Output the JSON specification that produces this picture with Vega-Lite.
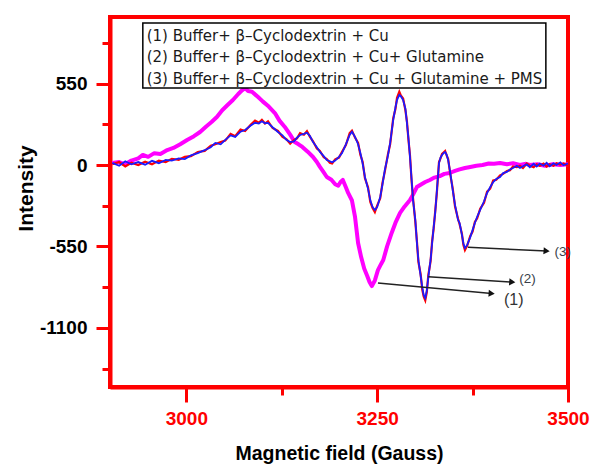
{
  "$schema": "https://vega.github.io/schema/vega-lite/v6.json",
  "width": 458,
  "height": 370,
  "autosize": "none",
  "padding": {"left": 110, "top": 17, "right": 25, "bottom": 77},
  "background": "white",
  "config": {
    "view": {"stroke": "#ff0000", "strokeWidth": 4},
    "font": "Liberation Sans"
  },
  "datasets": {
    "spectra": [
      {"series": "(1)", "field": 2903, "intensity": 14},
      {"series": "(1)", "field": 2912, "intensity": 20},
      {"series": "(1)", "field": 2920, "intensity": 5},
      {"series": "(1)", "field": 2928, "intensity": 30},
      {"series": "(1)", "field": 2937, "intensity": 45},
      {"series": "(1)", "field": 2943, "intensity": 68},
      {"series": "(1)", "field": 2950, "intensity": 55},
      {"series": "(1)", "field": 2958, "intensity": 80},
      {"series": "(1)", "field": 2966, "intensity": 75},
      {"series": "(1)", "field": 2975, "intensity": 101},
      {"series": "(1)", "field": 2983, "intensity": 115},
      {"series": "(1)", "field": 2992, "intensity": 140},
      {"series": "(1)", "field": 3001, "intensity": 169},
      {"series": "(1)", "field": 3010, "intensity": 195},
      {"series": "(1)", "field": 3018, "intensity": 223},
      {"series": "(1)", "field": 3026, "intensity": 260},
      {"series": "(1)", "field": 3033, "intensity": 290},
      {"series": "(1)", "field": 3040, "intensity": 324},
      {"series": "(1)", "field": 3047, "intensity": 370},
      {"series": "(1)", "field": 3054, "intensity": 405},
      {"series": "(1)", "field": 3061, "intensity": 439},
      {"series": "(1)", "field": 3068, "intensity": 480},
      {"series": "(1)", "field": 3073, "intensity": 505},
      {"series": "(1)", "field": 3077, "intensity": 520},
      {"series": "(1)", "field": 3081, "intensity": 500},
      {"series": "(1)", "field": 3086, "intensity": 495},
      {"series": "(1)", "field": 3094, "intensity": 459},
      {"series": "(1)", "field": 3100, "intensity": 430},
      {"series": "(1)", "field": 3108, "intensity": 395},
      {"series": "(1)", "field": 3116, "intensity": 351},
      {"series": "(1)", "field": 3122, "intensity": 300},
      {"series": "(1)", "field": 3129, "intensity": 257},
      {"series": "(1)", "field": 3136, "intensity": 205},
      {"series": "(1)", "field": 3142, "intensity": 155},
      {"series": "(1)", "field": 3147, "intensity": 140},
      {"series": "(1)", "field": 3152, "intensity": 122},
      {"series": "(1)", "field": 3159, "intensity": 90},
      {"series": "(1)", "field": 3166, "intensity": 54},
      {"series": "(1)", "field": 3171, "intensity": 20},
      {"series": "(1)", "field": 3175, "intensity": -13},
      {"series": "(1)", "field": 3180, "intensity": -50},
      {"series": "(1)", "field": 3184, "intensity": -81},
      {"series": "(1)", "field": 3190, "intensity": -100},
      {"series": "(1)", "field": 3195, "intensity": -130},
      {"series": "(1)", "field": 3199, "intensity": -140},
      {"series": "(1)", "field": 3202, "intensity": -115},
      {"series": "(1)", "field": 3205, "intensity": -101},
      {"series": "(1)", "field": 3209, "intensity": -150},
      {"series": "(1)", "field": 3212, "intensity": -189},
      {"series": "(1)", "field": 3217, "intensity": -240},
      {"series": "(1)", "field": 3221, "intensity": -351},
      {"series": "(1)", "field": 3225, "intensity": -527},
      {"series": "(1)", "field": 3229, "intensity": -622},
      {"series": "(1)", "field": 3233, "intensity": -700},
      {"series": "(1)", "field": 3237, "intensity": -750},
      {"series": "(1)", "field": 3240, "intensity": -790},
      {"series": "(1)", "field": 3243, "intensity": -818},
      {"series": "(1)", "field": 3247, "intensity": -780},
      {"series": "(1)", "field": 3251, "intensity": -710},
      {"series": "(1)", "field": 3255, "intensity": -670},
      {"series": "(1)", "field": 3258, "intensity": -642},
      {"series": "(1)", "field": 3263, "intensity": -550},
      {"series": "(1)", "field": 3269, "intensity": -459},
      {"series": "(1)", "field": 3274, "intensity": -390},
      {"series": "(1)", "field": 3280, "intensity": -324},
      {"series": "(1)", "field": 3286, "intensity": -280},
      {"series": "(1)", "field": 3293, "intensity": -237},
      {"series": "(1)", "field": 3297, "intensity": -200},
      {"series": "(1)", "field": 3302, "intensity": -149},
      {"series": "(1)", "field": 3308, "intensity": -130},
      {"series": "(1)", "field": 3313, "intensity": -115},
      {"series": "(1)", "field": 3319, "intensity": -101},
      {"series": "(1)", "field": 3325, "intensity": -85},
      {"series": "(1)", "field": 3332, "intensity": -75},
      {"series": "(1)", "field": 3338, "intensity": -60},
      {"series": "(1)", "field": 3345, "intensity": -54},
      {"series": "(1)", "field": 3352, "intensity": -40},
      {"series": "(1)", "field": 3358, "intensity": -30},
      {"series": "(1)", "field": 3365, "intensity": -20},
      {"series": "(1)", "field": 3372, "intensity": -13},
      {"series": "(1)", "field": 3380, "intensity": -5},
      {"series": "(1)", "field": 3388, "intensity": 0},
      {"series": "(1)", "field": 3396, "intensity": 10},
      {"series": "(1)", "field": 3403, "intensity": 8},
      {"series": "(1)", "field": 3411, "intensity": 14},
      {"series": "(1)", "field": 3420, "intensity": 5},
      {"series": "(1)", "field": 3428, "intensity": 12},
      {"series": "(1)", "field": 3437, "intensity": 0},
      {"series": "(1)", "field": 3445, "intensity": 8},
      {"series": "(1)", "field": 3450, "intensity": 0},
      {"series": "(1)", "field": 3460, "intensity": 5},
      {"series": "(1)", "field": 3470, "intensity": -5},
      {"series": "(1)", "field": 3480, "intensity": 5},
      {"series": "(1)", "field": 3490, "intensity": 0},
      {"series": "(1)", "field": 3500, "intensity": 5},

      {"series": "(2)", "field": 2903, "intensity": 5},
      {"series": "(2)", "field": 2912, "intensity": 20},
      {"series": "(2)", "field": 2920, "intensity": -10},
      {"series": "(2)", "field": 2928, "intensity": 15},
      {"series": "(2)", "field": 2937, "intensity": 0},
      {"series": "(2)", "field": 2946, "intensity": 22},
      {"series": "(2)", "field": 2955, "intensity": 5},
      {"series": "(2)", "field": 2964, "intensity": 30},
      {"series": "(2)", "field": 2973, "intensity": 20},
      {"series": "(2)", "field": 2981, "intensity": 42},
      {"series": "(2)", "field": 2990, "intensity": 35},
      {"series": "(2)", "field": 2998, "intensity": 55},
      {"series": "(2)", "field": 3006, "intensity": 60},
      {"series": "(2)", "field": 3015, "intensity": 88},
      {"series": "(2)", "field": 3024, "intensity": 95},
      {"series": "(2)", "field": 3032, "intensity": 130},
      {"series": "(2)", "field": 3038, "intensity": 140},
      {"series": "(2)", "field": 3045, "intensity": 155},
      {"series": "(2)", "field": 3051, "intensity": 165},
      {"series": "(2)", "field": 3058, "intensity": 210},
      {"series": "(2)", "field": 3064, "intensity": 195},
      {"series": "(2)", "field": 3071, "intensity": 240},
      {"series": "(2)", "field": 3077, "intensity": 230},
      {"series": "(2)", "field": 3084, "intensity": 270},
      {"series": "(2)", "field": 3090, "intensity": 300},
      {"series": "(2)", "field": 3095, "intensity": 285},
      {"series": "(2)", "field": 3099, "intensity": 305},
      {"series": "(2)", "field": 3103, "intensity": 280},
      {"series": "(2)", "field": 3107, "intensity": 295},
      {"series": "(2)", "field": 3113, "intensity": 250},
      {"series": "(2)", "field": 3120, "intensity": 230},
      {"series": "(2)", "field": 3126, "intensity": 190},
      {"series": "(2)", "field": 3131, "intensity": 175},
      {"series": "(2)", "field": 3136, "intensity": 145},
      {"series": "(2)", "field": 3141, "intensity": 170},
      {"series": "(2)", "field": 3145, "intensity": 180},
      {"series": "(2)", "field": 3149, "intensity": 215},
      {"series": "(2)", "field": 3154, "intensity": 205},
      {"series": "(2)", "field": 3158, "intensity": 228},
      {"series": "(2)", "field": 3162, "intensity": 190},
      {"series": "(2)", "field": 3166, "intensity": 160},
      {"series": "(2)", "field": 3171, "intensity": 112},
      {"series": "(2)", "field": 3175, "intensity": 95},
      {"series": "(2)", "field": 3180, "intensity": 52},
      {"series": "(2)", "field": 3184, "intensity": 40},
      {"series": "(2)", "field": 3188, "intensity": 15},
      {"series": "(2)", "field": 3191, "intensity": 10},
      {"series": "(2)", "field": 3195, "intensity": 38},
      {"series": "(2)", "field": 3200, "intensity": 50},
      {"series": "(2)", "field": 3204, "intensity": 90},
      {"series": "(2)", "field": 3209, "intensity": 135},
      {"series": "(2)", "field": 3214, "intensity": 215},
      {"series": "(2)", "field": 3217, "intensity": 232},
      {"series": "(2)", "field": 3221, "intensity": 185},
      {"series": "(2)", "field": 3225, "intensity": 150},
      {"series": "(2)", "field": 3228, "intensity": 70},
      {"series": "(2)", "field": 3231, "intensity": 20},
      {"series": "(2)", "field": 3234, "intensity": -90},
      {"series": "(2)", "field": 3238, "intensity": -150},
      {"series": "(2)", "field": 3241, "intensity": -250},
      {"series": "(2)", "field": 3244, "intensity": -290},
      {"series": "(2)", "field": 3247, "intensity": -318},
      {"series": "(2)", "field": 3250, "intensity": -275},
      {"series": "(2)", "field": 3254, "intensity": -225},
      {"series": "(2)", "field": 3257, "intensity": -120},
      {"series": "(2)", "field": 3260, "intensity": -45},
      {"series": "(2)", "field": 3264, "intensity": 70},
      {"series": "(2)", "field": 3267, "intensity": 140},
      {"series": "(2)", "field": 3271, "intensity": 315},
      {"series": "(2)", "field": 3274, "intensity": 380},
      {"series": "(2)", "field": 3276, "intensity": 455},
      {"series": "(2)", "field": 3279, "intensity": 495},
      {"series": "(2)", "field": 3281, "intensity": 470},
      {"series": "(2)", "field": 3284, "intensity": 450},
      {"series": "(2)", "field": 3287, "intensity": 370},
      {"series": "(2)", "field": 3289, "intensity": 295},
      {"series": "(2)", "field": 3291, "intensity": 170},
      {"series": "(2)", "field": 3293, "intensity": 65},
      {"series": "(2)", "field": 3295, "intensity": -100},
      {"series": "(2)", "field": 3297, "intensity": -225},
      {"series": "(2)", "field": 3300, "intensity": -385},
      {"series": "(2)", "field": 3302, "intensity": -510},
      {"series": "(2)", "field": 3304, "intensity": -655},
      {"series": "(2)", "field": 3307, "intensity": -740},
      {"series": "(2)", "field": 3309, "intensity": -840},
      {"series": "(2)", "field": 3311, "intensity": -890},
      {"series": "(2)", "field": 3313, "intensity": -915},
      {"series": "(2)", "field": 3315, "intensity": -860},
      {"series": "(2)", "field": 3317, "intensity": -745},
      {"series": "(2)", "field": 3320, "intensity": -650},
      {"series": "(2)", "field": 3322, "intensity": -515},
      {"series": "(2)", "field": 3324, "intensity": -430},
      {"series": "(2)", "field": 3326, "intensity": -315},
      {"series": "(2)", "field": 3328, "intensity": -200},
      {"series": "(2)", "field": 3331, "intensity": 20},
      {"series": "(2)", "field": 3333, "intensity": 45},
      {"series": "(2)", "field": 3335, "intensity": 75},
      {"series": "(2)", "field": 3337, "intensity": 85},
      {"series": "(2)", "field": 3339, "intensity": 95},
      {"series": "(2)", "field": 3341, "intensity": 65},
      {"series": "(2)", "field": 3343, "intensity": 40},
      {"series": "(2)", "field": 3346, "intensity": -70},
      {"series": "(2)", "field": 3349, "intensity": -160},
      {"series": "(2)", "field": 3352, "intensity": -280},
      {"series": "(2)", "field": 3356, "intensity": -365},
      {"series": "(2)", "field": 3358, "intensity": -400},
      {"series": "(2)", "field": 3361, "intensity": -465},
      {"series": "(2)", "field": 3363, "intensity": -540},
      {"series": "(2)", "field": 3365, "intensity": -575},
      {"series": "(2)", "field": 3368, "intensity": -545},
      {"series": "(2)", "field": 3372, "intensity": -480},
      {"series": "(2)", "field": 3375, "intensity": -450},
      {"series": "(2)", "field": 3378, "intensity": -385},
      {"series": "(2)", "field": 3381, "intensity": -360},
      {"series": "(2)", "field": 3385, "intensity": -295},
      {"series": "(2)", "field": 3390, "intensity": -255},
      {"series": "(2)", "field": 3394, "intensity": -180},
      {"series": "(2)", "field": 3398, "intensity": -160},
      {"series": "(2)", "field": 3402, "intensity": -105},
      {"series": "(2)", "field": 3406, "intensity": -100},
      {"series": "(2)", "field": 3411, "intensity": -70},
      {"series": "(2)", "field": 3415, "intensity": -60},
      {"series": "(2)", "field": 3420, "intensity": -40},
      {"series": "(2)", "field": 3424, "intensity": -35},
      {"series": "(2)", "field": 3428, "intensity": -10},
      {"series": "(2)", "field": 3433, "intensity": -15},
      {"series": "(2)", "field": 3437, "intensity": -5},
      {"series": "(2)", "field": 3441, "intensity": -20},
      {"series": "(2)", "field": 3446, "intensity": 10},
      {"series": "(2)", "field": 3450, "intensity": -5},
      {"series": "(2)", "field": 3455, "intensity": -15},
      {"series": "(2)", "field": 3459, "intensity": 5},
      {"series": "(2)", "field": 3463, "intensity": -5},
      {"series": "(2)", "field": 3468, "intensity": 10},
      {"series": "(2)", "field": 3472, "intensity": -10},
      {"series": "(2)", "field": 3476, "intensity": 5},
      {"series": "(2)", "field": 3481, "intensity": -5},
      {"series": "(2)", "field": 3485, "intensity": 12},
      {"series": "(2)", "field": 3490, "intensity": 3},
      {"series": "(2)", "field": 3494, "intensity": 10},
      {"series": "(2)", "field": 3500, "intensity": -5},

      {"series": "(3)", "field": 2903, "intensity": 14},
      {"series": "(3)", "field": 2912, "intensity": -5},
      {"series": "(3)", "field": 2920, "intensity": 25},
      {"series": "(3)", "field": 2928, "intensity": 5},
      {"series": "(3)", "field": 2937, "intensity": 20},
      {"series": "(3)", "field": 2946, "intensity": 2},
      {"series": "(3)", "field": 2955, "intensity": 28},
      {"series": "(3)", "field": 2964, "intensity": 12},
      {"series": "(3)", "field": 2973, "intensity": 35},
      {"series": "(3)", "field": 2981, "intensity": 30},
      {"series": "(3)", "field": 2990, "intensity": 45},
      {"series": "(3)", "field": 2998, "intensity": 40},
      {"series": "(3)", "field": 3006, "intensity": 65},
      {"series": "(3)", "field": 3015, "intensity": 80},
      {"series": "(3)", "field": 3024, "intensity": 100},
      {"series": "(3)", "field": 3032, "intensity": 120},
      {"series": "(3)", "field": 3038, "intensity": 149},
      {"series": "(3)", "field": 3045, "intensity": 140},
      {"series": "(3)", "field": 3051, "intensity": 170},
      {"series": "(3)", "field": 3058, "intensity": 200},
      {"series": "(3)", "field": 3064, "intensity": 190},
      {"series": "(3)", "field": 3071, "intensity": 225},
      {"series": "(3)", "field": 3077, "intensity": 236},
      {"series": "(3)", "field": 3084, "intensity": 265},
      {"series": "(3)", "field": 3090, "intensity": 285},
      {"series": "(3)", "field": 3095, "intensity": 280},
      {"series": "(3)", "field": 3099, "intensity": 295},
      {"series": "(3)", "field": 3103, "intensity": 282},
      {"series": "(3)", "field": 3107, "intensity": 284},
      {"series": "(3)", "field": 3113, "intensity": 255},
      {"series": "(3)", "field": 3120, "intensity": 223},
      {"series": "(3)", "field": 3126, "intensity": 200},
      {"series": "(3)", "field": 3131, "intensity": 170},
      {"series": "(3)", "field": 3136, "intensity": 155},
      {"series": "(3)", "field": 3141, "intensity": 160},
      {"series": "(3)", "field": 3145, "intensity": 185},
      {"series": "(3)", "field": 3149, "intensity": 203},
      {"series": "(3)", "field": 3154, "intensity": 210},
      {"series": "(3)", "field": 3158, "intensity": 218},
      {"series": "(3)", "field": 3162, "intensity": 195},
      {"series": "(3)", "field": 3166, "intensity": 155},
      {"series": "(3)", "field": 3171, "intensity": 120},
      {"series": "(3)", "field": 3175, "intensity": 88},
      {"series": "(3)", "field": 3180, "intensity": 60},
      {"series": "(3)", "field": 3184, "intensity": 34},
      {"series": "(3)", "field": 3188, "intensity": 25},
      {"series": "(3)", "field": 3191, "intensity": 18},
      {"series": "(3)", "field": 3195, "intensity": 30},
      {"series": "(3)", "field": 3200, "intensity": 55},
      {"series": "(3)", "field": 3204, "intensity": 81},
      {"series": "(3)", "field": 3209, "intensity": 140},
      {"series": "(3)", "field": 3214, "intensity": 203},
      {"series": "(3)", "field": 3217, "intensity": 225},
      {"series": "(3)", "field": 3221, "intensity": 190},
      {"series": "(3)", "field": 3225, "intensity": 140},
      {"series": "(3)", "field": 3228, "intensity": 81},
      {"series": "(3)", "field": 3231, "intensity": 10},
      {"series": "(3)", "field": 3234, "intensity": -81},
      {"series": "(3)", "field": 3238, "intensity": -160},
      {"series": "(3)", "field": 3241, "intensity": -237},
      {"series": "(3)", "field": 3244, "intensity": -285},
      {"series": "(3)", "field": 3247, "intensity": -304},
      {"series": "(3)", "field": 3250, "intensity": -285},
      {"series": "(3)", "field": 3254, "intensity": -216},
      {"series": "(3)", "field": 3257, "intensity": -130},
      {"series": "(3)", "field": 3260, "intensity": -34},
      {"series": "(3)", "field": 3264, "intensity": 60},
      {"series": "(3)", "field": 3267, "intensity": 149},
      {"series": "(3)", "field": 3271, "intensity": 304},
      {"series": "(3)", "field": 3274, "intensity": 390},
      {"series": "(3)", "field": 3276, "intensity": 439},
      {"series": "(3)", "field": 3279, "intensity": 473},
      {"series": "(3)", "field": 3281, "intensity": 465},
      {"series": "(3)", "field": 3284, "intensity": 439},
      {"series": "(3)", "field": 3287, "intensity": 380},
      {"series": "(3)", "field": 3289, "intensity": 284},
      {"series": "(3)", "field": 3291, "intensity": 180},
      {"series": "(3)", "field": 3293, "intensity": 54},
      {"series": "(3)", "field": 3295, "intensity": -90},
      {"series": "(3)", "field": 3297, "intensity": -237},
      {"series": "(3)", "field": 3300, "intensity": -372},
      {"series": "(3)", "field": 3302, "intensity": -520},
      {"series": "(3)", "field": 3304, "intensity": -642},
      {"series": "(3)", "field": 3307, "intensity": -750},
      {"series": "(3)", "field": 3309, "intensity": -824},
      {"series": "(3)", "field": 3311, "intensity": -880},
      {"series": "(3)", "field": 3313, "intensity": -899},
      {"series": "(3)", "field": 3315, "intensity": -850},
      {"series": "(3)", "field": 3317, "intensity": -757},
      {"series": "(3)", "field": 3320, "intensity": -640},
      {"series": "(3)", "field": 3322, "intensity": -527},
      {"series": "(3)", "field": 3324, "intensity": -420},
      {"series": "(3)", "field": 3326, "intensity": -324},
      {"series": "(3)", "field": 3328, "intensity": -189},
      {"series": "(3)", "field": 3331, "intensity": 13},
      {"series": "(3)", "field": 3333, "intensity": 50},
      {"series": "(3)", "field": 3335, "intensity": 68},
      {"series": "(3)", "field": 3337, "intensity": 80},
      {"series": "(3)", "field": 3339, "intensity": 88},
      {"series": "(3)", "field": 3341, "intensity": 70},
      {"series": "(3)", "field": 3343, "intensity": 34},
      {"series": "(3)", "field": 3346, "intensity": -60},
      {"series": "(3)", "field": 3349, "intensity": -169},
      {"series": "(3)", "field": 3352, "intensity": -270},
      {"series": "(3)", "field": 3356, "intensity": -372},
      {"series": "(3)", "field": 3358, "intensity": -392},
      {"series": "(3)", "field": 3361, "intensity": -470},
      {"series": "(3)", "field": 3363, "intensity": -530},
      {"series": "(3)", "field": 3365, "intensity": -561},
      {"series": "(3)", "field": 3368, "intensity": -540},
      {"series": "(3)", "field": 3372, "intensity": -487},
      {"series": "(3)", "field": 3375, "intensity": -440},
      {"series": "(3)", "field": 3378, "intensity": -392},
      {"series": "(3)", "field": 3381, "intensity": -350},
      {"series": "(3)", "field": 3385, "intensity": -304},
      {"series": "(3)", "field": 3390, "intensity": -245},
      {"series": "(3)", "field": 3394, "intensity": -189},
      {"series": "(3)", "field": 3398, "intensity": -150},
      {"series": "(3)", "field": 3402, "intensity": -115},
      {"series": "(3)", "field": 3406, "intensity": -95},
      {"series": "(3)", "field": 3411, "intensity": -81},
      {"series": "(3)", "field": 3415, "intensity": -55},
      {"series": "(3)", "field": 3420, "intensity": -47},
      {"series": "(3)", "field": 3424, "intensity": -30},
      {"series": "(3)", "field": 3428, "intensity": -20},
      {"series": "(3)", "field": 3433, "intensity": -5},
      {"series": "(3)", "field": 3437, "intensity": -20},
      {"series": "(3)", "field": 3441, "intensity": -8},
      {"series": "(3)", "field": 3446, "intensity": 5},
      {"series": "(3)", "field": 3450, "intensity": -15},
      {"series": "(3)", "field": 3455, "intensity": 8},
      {"series": "(3)", "field": 3459, "intensity": -10},
      {"series": "(3)", "field": 3463, "intensity": 10},
      {"series": "(3)", "field": 3468, "intensity": -5},
      {"series": "(3)", "field": 3472, "intensity": 15},
      {"series": "(3)", "field": 3476, "intensity": -8},
      {"series": "(3)", "field": 3481, "intensity": 12},
      {"series": "(3)", "field": 3485, "intensity": 0},
      {"series": "(3)", "field": 3490, "intensity": 18},
      {"series": "(3)", "field": 3494, "intensity": -2},
      {"series": "(3)", "field": 3500, "intensity": 10}
    ],
    "legendBox": [
      {"field": 2943, "field2": 3471, "intensity": 959, "intensity2": 520}
    ],
    "legendText": [
      {"label": "(1) Buffer+ β–Cyclodextrin + Cu", "field": 2948, "intensity": 838},
      {"label": "(2) Buffer+ β–Cyclodextrin + Cu+ Glutamine", "field": 2948, "intensity": 693},
      {"label": "(3) Buffer+ β–Cyclodextrin + Cu + Glutamine + PMS", "field": 2948, "intensity": 547}
    ],
    "arrows": [
      {"label": "(1)", "field": 3251, "intensity": -797, "field2": 3400, "intensity2": -868},
      {"label": "(2)", "field": 3317, "intensity": -755, "field2": 3427, "intensity2": -791},
      {"label": "(3)", "field": 3369, "intensity": -556, "field2": 3472, "intensity2": -581}
    ],
    "arrowLabels": [
      {"label": "(1)", "field": 3429, "intensity": -909},
      {"label": "(2)", "field": 3447, "intensity": -767},
      {"label": "(3)", "field": 3493, "intensity": -585}
    ]
  },
  "encoding": {
    "x": {
      "field": "field",
      "type": "quantitative",
      "scale": {"domain": [2900, 3500], "nice": false, "zero": false},
      "axis": {
        "title": "Magnetic field (Gauss)",
        "titleFont": "Liberation Sans",
        "titleFontSize": 19.5,
        "titleFontWeight": "bold",
        "titleColor": "#000000",
        "titleY": 72,
        "titleBaseline": "alphabetic",
        "values": [3000, 3125, 3250, 3375, 3500],
        "labelExpr": "datum.value % 250 === 0 ? '' + datum.value : ''",
        "labelFont": "Liberation Sans",
        "labelFontSize": 19,
        "labelFontWeight": "bold",
        "labelColor": "#ff0000",
        "labelPadding": 7,
        "labelFlush": false,
        "labelOverlap": false,
        "domainColor": "#ff0000",
        "domainWidth": 4,
        "tickColor": "#ff0000",
        "tickWidth": 3,
        "tickSize": {"condition": {"test": "datum.value % 250 === 0", "value": 15}, "value": 8},
        "grid": false
      }
    },
    "y": {
      "field": "intensity",
      "type": "quantitative",
      "scale": {"domain": [-1500, 1000], "nice": false, "zero": false},
      "axis": {
        "title": "Intensity",
        "titleFont": "Liberation Sans",
        "titleFontSize": 21,
        "titleFontWeight": "bold",
        "titleColor": "#000000",
        "titleAngle": -90,
        "titleX": -78,
        "titleY": 171,
        "titleAlign": "center",
        "titleBaseline": "alphabetic",
        "values": [-1375, -1100, -825, -550, -275, 0, 275, 550, 825],
        "labelExpr": "datum.value % 550 === 0 ? '' + datum.value : ''",
        "labelFont": "Liberation Sans",
        "labelFontSize": 19,
        "labelFontWeight": "bold",
        "labelColor": "#000000",
        "labelPadding": 9,
        "labelFlush": false,
        "labelOverlap": false,
        "domainColor": "#ff0000",
        "domainWidth": 4,
        "tickColor": "#ff0000",
        "tickWidth": 3,
        "tickSize": {"condition": {"test": "datum.value % 550 === 0", "value": 14}, "value": 8},
        "grid": false
      }
    }
  },
  "layer": [
    {
      "data": {"name": "spectra"},
      "transform": [{"filter": "datum.series === '(1)'"}],
      "mark": {"type": "line", "color": "#ff00ff", "strokeWidth": 4, "strokeJoin": "round"},
      "encoding": {"order": {"field": "field", "type": "quantitative"}}
    },
    {
      "data": {"name": "spectra"},
      "transform": [{"filter": "datum.series === '(2)'"}],
      "mark": {"type": "line", "color": "#ff0000", "strokeWidth": 2.2},
      "encoding": {"order": {"field": "field", "type": "quantitative"}}
    },
    {
      "data": {"name": "spectra"},
      "transform": [{"filter": "datum.series === '(3)'"}],
      "mark": {"type": "line", "color": "#1a1aff", "strokeWidth": 1.8},
      "encoding": {"order": {"field": "field", "type": "quantitative"}}
    },
    {
      "data": {"name": "legendBox"},
      "mark": {"type": "rect", "fill": "#ffffff", "stroke": "#000000", "strokeWidth": 1.5},
      "encoding": {
        "x2": {"field": "field2"},
        "y2": {"field": "intensity2"}
      }
    },
    {
      "data": {"name": "legendText"},
      "mark": {"type": "text", "align": "left", "baseline": "alphabetic", "font": "DejaVu Sans", "fontSize": 15, "color": "#1a1a1a"},
      "encoding": {"text": {"field": "label"}}
    },
    {
      "data": {"name": "arrows"},
      "mark": {"type": "rule", "color": "#222222", "strokeWidth": 1.5},
      "encoding": {
        "x2": {"field": "field2"},
        "y2": {"field": "intensity2"}
      }
    },
    {
      "data": {"name": "arrows"},
      "mark": {"type": "point", "shape": "triangle-right", "filled": true, "color": "#111111", "size": 50, "angle": 4, "opacity": 1},
      "encoding": {
        "x": {"field": "field2", "type": "quantitative", "title": "Magnetic field (Gauss)"},
        "y": {"field": "intensity2", "type": "quantitative", "title": "Intensity"}
      }
    },
    {
      "data": {"name": "arrowLabels"},
      "transform": [{"filter": "datum.label === '(1)'"}],
      "mark": {"type": "text", "align": "center", "baseline": "middle", "font": "Liberation Sans", "fontSize": 16, "color": "#333333"},
      "encoding": {"text": {"field": "label"}}
    },
    {
      "data": {"name": "arrowLabels"},
      "transform": [{"filter": "datum.label !== '(1)'"}],
      "mark": {"type": "text", "align": "center", "baseline": "middle", "font": "Liberation Sans", "fontSize": 13.5, "color": "#3a3f4a"},
      "encoding": {"text": {"field": "label"}}
    }
  ]
}
